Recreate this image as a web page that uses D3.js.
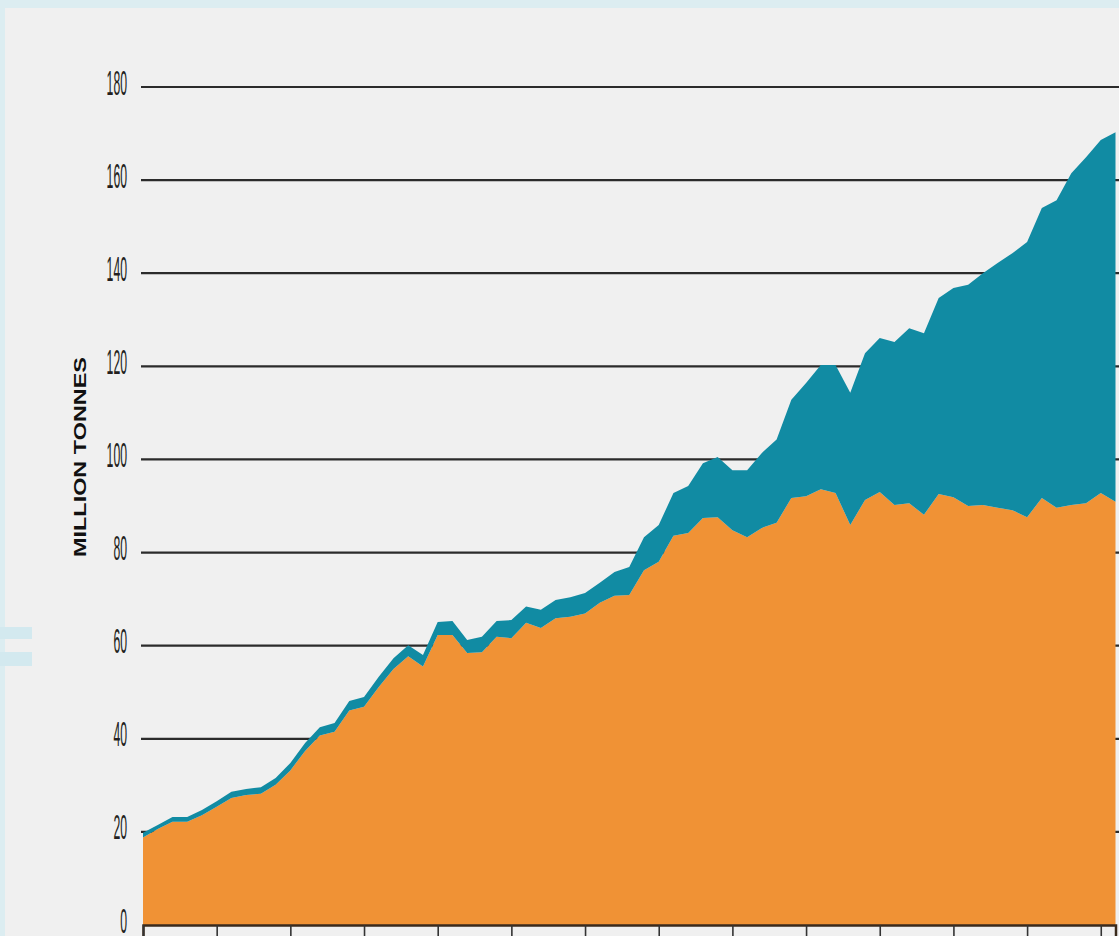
<!DOCTYPE html>
<html>
<head>
<meta charset="utf-8">
<script src="https://cdn.jsdelivr.net/npm/d3@7"></script>
<style>
  html, body { margin: 0; padding: 0; background: #dcedf1; }
  svg { display: block; }
</style>
</head>
<body>
<svg id="chart" width="1119" height="936"></svg>
<script>
// ---- DATA (million tonnes) ----
const years = d3.range(1950, 2017);
const capture = [
  18.8, 20.6, 22.2, 22.2, 23.6, 25.4, 27.3, 27.9, 28.2, 30.1,
  33.2, 37.4, 40.7, 41.5, 46.1, 46.9, 51.1, 55.0, 57.7, 55.5,
  62.3, 62.3, 58.4, 58.6, 61.9, 61.6, 64.9, 63.8, 65.9, 66.2,
  66.9, 69.2, 70.7, 70.9, 76.2, 78.0, 83.6, 84.2, 87.4, 87.6,
  84.8, 83.3, 85.3, 86.4, 91.7, 92.1, 93.6, 92.8, 85.9, 91.3,
  93.0, 90.2, 90.6, 88.1, 92.6, 91.9, 90.0, 90.2, 89.6, 89.1,
  87.6, 91.7, 89.6, 90.2, 90.6, 92.8, 90.9
];
const aquaculture = [
  1.0, 0.9, 1.0, 1.0, 1.1, 1.2, 1.3, 1.3, 1.4, 1.5,
  1.6, 1.7, 1.8, 1.9, 2.0, 2.1, 2.2, 2.3, 2.4, 2.5,
  2.8, 3.0, 2.8, 3.3, 3.4, 3.9, 3.5, 3.9, 3.9, 4.2,
  4.4, 4.3, 5.1, 6.0, 7.1, 7.9, 9.2, 10.1, 11.8, 12.9,
  12.9, 14.4, 16.1, 17.9, 21.1, 24.3, 26.7, 27.5, 28.4, 31.5,
  33.1, 35.0, 37.6, 39.0, 42.1, 44.9, 47.5, 49.8, 52.6, 55.2,
  59.1, 62.3, 66.1, 71.3, 74.3, 75.8, 79.4
];
const yTicks = [0, 20, 40, 60, 80, 100, 120, 140, 160, 180];
const xTicks = d3.range(1950, 2016, 5);
const yLabel = "MILLION TONNES";

// ---- LAYOUT ----
const svg = d3.select("#chart");
const colors = { capture: "#f09235", aquaculture: "#118ba3" };

// panel background
svg.append("rect").attr("x", 5).attr("y", 8).attr("width", 1114).attr("height", 928).attr("fill", "#f0f0f0");
// small light-blue remnant on the left edge
svg.append("rect").attr("x", 0).attr("y", 627).attr("width", 32).attr("height", 12).attr("fill", "#d3e9ef");
svg.append("rect").attr("x", 0).attr("y", 652).attr("width", 32).attr("height", 14).attr("fill", "#d3e9ef");

const x = d3.scaleLinear().domain([1950, 2016]).range([143, 1115.5]);
const y = d3.scaleLinear().domain([0, 180]).range([925, 87]);

const table = years.map((yr, i) => ({ year: yr, capture: capture[i], aquaculture: aquaculture[i] }));
const stack = d3.stack().keys(["capture", "aquaculture"]);
const series = stack(table);

// gridlines
svg.append("g").selectAll("line").data(yTicks.filter(d => d > 0)).join("line")
  .attr("x1", 141).attr("x2", 1119)
  .attr("y1", d => y(d)).attr("y2", d => y(d))
  .attr("stroke", "#2b2b2b").attr("stroke-width", 2.2);

// areas
const area = d3.area()
  .x(d => x(d.data.year))
  .y0(d => y(d[0]))
  .y1(d => y(d[1]));

svg.append("g").selectAll("path").data(series).join("path")
  .attr("d", area)
  .attr("fill", d => colors[d.key]);

// x axis
const xAxis = d3.axisBottom(x).tickValues(xTicks).tickSize(14).tickFormat("");
const gx = svg.append("g").attr("transform", `translate(0,${y(0)})`).call(xAxis);
gx.select(".domain").attr("stroke", "#3a2a1c").attr("stroke-width", 2.5);
gx.selectAll(".tick line").attr("stroke", "#333").attr("stroke-width", 1.6);

// y axis labels
const yAxis = d3.axisLeft(y).tickValues(yTicks).tickSize(0);
const gy = svg.append("g").attr("transform", "translate(127,0)").call(yAxis);
gy.select(".domain").remove();
gy.selectAll(".tick text")
  .attr("x", 0).attr("dy", 7)
  .attr("fill", "#231f20")
  .attr("font-family", "Liberation Sans, Arial, sans-serif")
  .attr("font-size", 35)
  .attr("text-anchor", "end")
  .attr("lengthAdjust", "spacingAndGlyphs")
  .attr("textLength", d => String(d).length * 6.8);

// y axis title
svg.append("text")
  .attr("transform", "translate(86,457) rotate(-90)")
  .attr("text-anchor", "middle")
  .attr("font-family", "Liberation Sans, Arial, sans-serif")
  .attr("font-weight", "bold")
  .attr("font-size", 17)
  .attr("fill", "#111")
  .attr("lengthAdjust", "spacingAndGlyphs")
  .attr("textLength", 200)
  .text(yLabel);
</script>
</body>
</html>
